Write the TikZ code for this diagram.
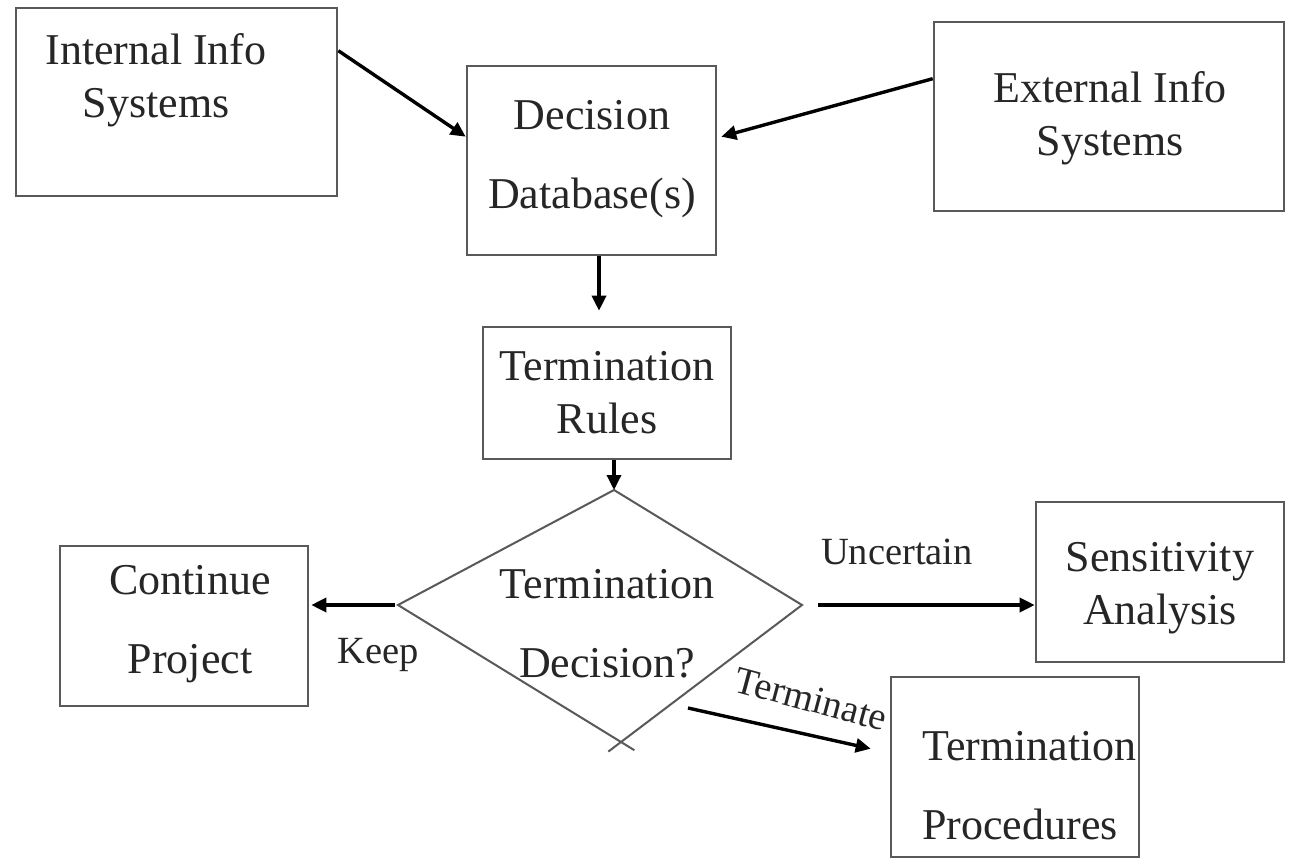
\documentclass[tikz,border=0pt]{standalone}
\usepackage{fontspec}
\setmainfont{Liberation Serif}
\usetikzlibrary{arrows.meta,calc}
\begin{document}
\begin{tikzpicture}[x=1pt,y=-1pt,
  box/.style={draw=black!65, line width=2.6pt, inner sep=0pt},
  txt/.style={font=\fontsize{44}{53}\selectfont, align=center, text=black!85, inner sep=0pt},
  wide/.style={font=\fontsize{44}{79}\selectfont, align=center, text=black!85, inner sep=0pt},
  lbl/.style={font=\fontsize{38.5}{44}\selectfont, text=black!85, inner sep=0pt},
  arr/.style={line width=3.4pt, -{Triangle[length=15pt,width=14pt]}},
  dia/.style={draw=black!65, line width=2pt}]
\useasboundingbox (0,0) rectangle (1297,866);
\fill[white] (0,0) rectangle (1297,866);

% boxes
\node[box, minimum width=321pt, minimum height=188pt] (int) at (176.5,102) {};
\node[box, minimum width=249pt, minimum height=189pt] (db) at (591.5,160.5) {};
\node[box, minimum width=350pt, minimum height=189pt] (ext) at (1109,116.5) {};
\node[box, minimum width=248pt, minimum height=132pt] (rules) at (607,393) {};
\node[box, minimum width=248pt, minimum height=160pt] (cont) at (184,626) {};
\node[box, minimum width=248pt, minimum height=160pt] (sens) at (1160,582) {};
\node[box, minimum width=248pt, minimum height=180pt] (proc) at (1015,767) {};

% texts
\node[txt] (intT) at (156,80) {Internal Info\\Systems};
\node[wide] (dbT) at (592,159) {Decision\\Database(s)};
\node[txt] (extT) at (1110,118) {External Info\\Systems};
\node[txt] (rulT) at (607,393) {Termination\\Rules};
\node[wide] (conT) at (190,624) {Continue\\Project};
\node[txt] (senT) at (1160,588) {Sensitivity\\Analysis};
\node[wide, align=left, anchor=west] (proT) at (922,786) {Termination\\Procedures};

% diamond
\coordinate (dT) at (614,490);
\coordinate (dL) at (398,605);
\coordinate (dR) at (802,605);
\coordinate (dB) at (621,742);
\draw[dia] ($(dL)!1.06!(dB)$) -- (dL) -- (dT) -- (dR) -- ($(dR)!1.07!(dB)$);
\node[wide] (decT) at (607,624) {Termination\\Decision?};

% connectors
\draw[arr] ($(int.north east)+(0,44)$) -- ($(db.north west)+(0,72)$);
\draw[arr] ($(ext.north west)+(0,58)$) -- ($(db.north east)+(4,72)$);
\draw[arr] ($(db.south)+(7.5,0)$) -- ($(rules.north)+(-8,-15)$);
\draw[arr] ($(rules.south)+(7,0)$) -- (dT);
\draw[arr] ($(dL)+(-3,0)$) -- ($(cont.east)+(2,-21)$);
\draw[arr] ($(dR)+(16,0)$) -- ($(sens.west)+(0,23)$);
\draw[arr] ($(dB)+(67,-34)$) -- ($(proc.north west)+(-19,73)$);

% labels
\node[lbl] (keep) at (378,655) {Keep};
\node[lbl] (unc) at (897,552) {Uncertain};
\node[lbl, rotate=-15] (term) at (811,699) {Terminate};
\end{tikzpicture}
\end{document}
